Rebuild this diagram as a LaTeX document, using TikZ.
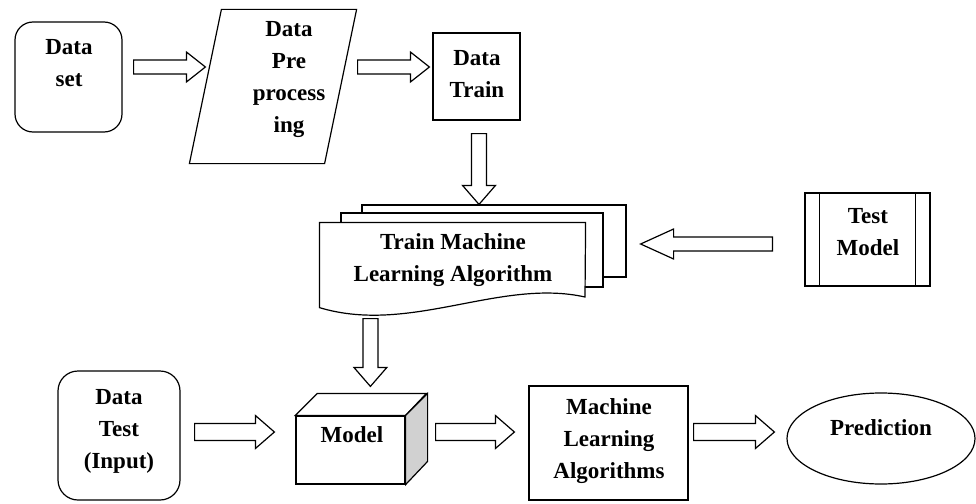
\documentclass[tikz,border=0pt]{standalone}
\usepackage{fontspec}
\setmainfont{Liberation Serif}
\usetikzlibrary{calc,shapes.geometric}
\tikzset{
	txt/.style={font=\bfseries\fontsize{23}{32}\selectfont, align=center, inner sep=0pt},
	rarrow/.style={fill=white, to path={let \p1=(\tikztostart), \p2=(\tikztotarget) in
		(\x1,\y1+#1pt) -- (\x2-19pt,\y1+#1pt) -- (\x2-19pt,\y1+#1pt+8pt) -- (\x2,\y1) -- (\x2-19pt,\y1-#1pt-8pt) -- (\x2-19pt,\y1-#1pt) -- (\x1,\y1-#1pt) -- cycle}},
	rarrow/.default=7,
	larrow/.style={fill=white, to path={let \p1=(\tikztostart), \p2=(\tikztotarget) in
		(\x1,\y1+7pt) -- (\x2+33pt,\y1+7pt) -- (\x2+33pt,\y1+15pt) -- (\x2,\y1) -- (\x2+33pt,\y1-15pt) -- (\x2+33pt,\y1-7pt) -- (\x1,\y1-7pt) -- cycle}},
	darrow/.style={fill=white, to path={let \p1=(\tikztostart), \p2=(\tikztotarget) in
		(\x1-7.5pt,\y1) -- (\x1-7.5pt,\y2+19pt) -- (\x1-16.5pt,\y2+19pt) -- (\x1,\y2) -- (\x1+16.5pt,\y2+19pt) -- (\x1+7.5pt,\y2+19pt) -- (\x1+7.5pt,\y1) -- cycle}}
}

\begin{document}
\begin{tikzpicture}[x=1pt, y=-1pt, line width=1.2pt]
			%%%%% START %%%%%
			\useasboundingbox (0,0) rectangle (976,503);
			
			\node[draw, rounded corners=18, minimum width=107, minimum height=110] (ds) at (68.5,77) {};
			\node[txt] (ds-t) at (69,63.5) {Data\\set};
			
			\node[minimum width=134, minimum height=153] (pre) at (273,86.5) {};
			\draw ([xshift=16]pre.north west) -- ([xshift=16]pre.north east) -- ([xshift=-16]pre.south east) -- ([xshift=-16]pre.south west) -- cycle;
			\node[txt] (pre-t) at (289,80) {Data\\Pre\\process\\ing};
			
			\node[draw, minimum width=87, minimum height=87] (dtr) at (476.5,76.5) {};
			\node[txt] (dtr-t) at (477,74.5) {Data\\Train};
			
			\draw[fill=white] (362,205) rectangle (626,277);
			\draw[fill=white] (341,213) rectangle (603,287);
			\node[minimum width=265, minimum height=84] (tml) at (452.5,265) {};
			\draw[fill=white] (tml.north west) -- (tml.north east) -- (585,297) .. controls (500,278) and (410,335) .. (tml.south west) -- cycle;
			\node[txt] (tml-t) at (453,260.5) {Train Machine\\Learning Algorithm};
			
			\node[draw, minimum width=125, minimum height=93] (tm) at (867.5,239.5) {};
			\draw ([xshift=15]tm.north west) -- ([xshift=15]tm.south west);
			\draw ([xshift=-15]tm.north east) -- ([xshift=-15]tm.south east);
			\node[txt] (tm-t) at (868,232) {Test\\Model};
			
			\node[draw, rounded corners=20, minimum width=122, minimum height=129] (dt) at (119,435.5) {};
			\node[txt] (dt-t) at (119,431.5) {Data\\Test\\(Input)};
			
			\node[draw, fill=white, minimum width=109, minimum height=68] (mdl) at (350.5,450) {};
			\draw[fill=white] (mdl.north west) -- ++(22,-22) -- ++(109,0) -- (mdl.north east) -- cycle;
			\draw[fill=black!18] (mdl.north east) -- ++(22,-22) -- ++(0,68) -- (mdl.south east) -- cycle;
			\node[txt] (mdl-t) at (352,435) {Model};
			
			\node[draw, minimum width=159, minimum height=114] (ml) at (608.5,443) {};
			\node[txt] (ml-t) at (609,441) {Machine\\Learning\\Algorithms};
			
			\node[draw, ellipse, minimum width=188, minimum height=91] (pred) at (881,438.5) {};
			\node[txt] (pred-t) at (881,428) {Prediction};
			
			\draw[rarrow] ($(ds.east)+(11,-10)$) to (pre.west);
			\draw[rarrow] ($(pre.east)+(17,-19.5)$) to ($(dtr.west)+(-3,0)$);
			\draw[darrow] ($(dtr.south)+(2.5,13)$) to ($(tml.north)+(0,-18)$);
			\draw[larrow] ($(tm.west)+(-32,4.5)$) to ($(tml.east)+(55,0)$);
			\draw[darrow] ($(tml.south west)+(51,11)$) to ($(mdl.north)+(0,-29)$);
			\draw[rarrow=8.5] ($(dt.east)+(14,-3.5)$) to ($(mdl.west)+(-21,0)$);
			\draw[rarrow=8.5] ($(mdl.east)+(30,-18)$) to ($(ml.west)+(-14,0)$);
			\draw[rarrow=8.5] ($(ml.east)+(5,-11)$) to ($(pred.west)+(-12,0)$);
			
			%%%%% END %%%%%
\end{tikzpicture}
\end{document}
